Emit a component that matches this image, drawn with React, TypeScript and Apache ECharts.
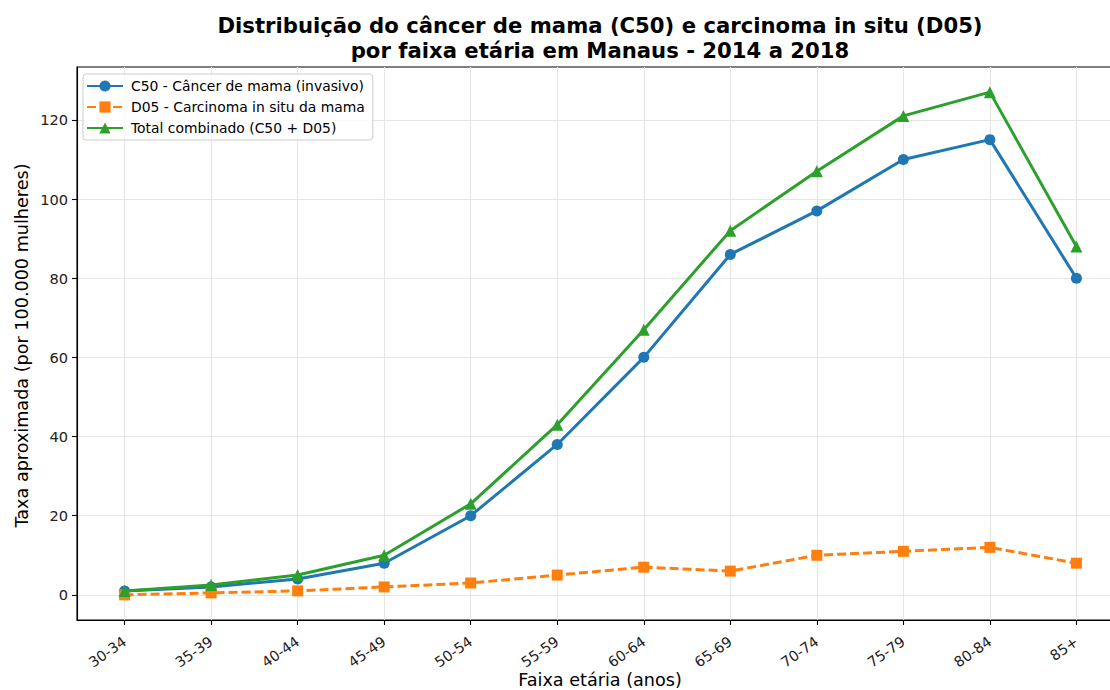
import React, { useEffect, useRef } from "react";
import * as echarts from "echarts";

const categories = ["30-34", "35-39", "40-44", "45-49", "50-54", "55-59", "60-64", "65-69", "70-74", "75-79", "80-84", "85+"];
const c50Values = [1, 2, 4, 8, 20, 38, 60, 86, 97, 110, 115, 80];
const d05Values = [0, 0.5, 1, 2, 3, 5, 7, 6, 10, 11, 12, 8];
const totalValues = [1, 2.5, 5, 10, 23, 43, 67, 92, 107, 121, 127, 88];
const yTicks = [0, 20, 40, 60, 80, 100, 120];

const seriesNames = [
  "C50 - Câncer de mama (invasivo)",
  "D05 - Carcinoma in situ da mama",
  "Total combinado (C50 + D05)",
];
const titleText = "Distribuição do câncer de mama (C50) e carcinoma in situ (D05)\npor faixa etária em Manaus - 2014 a 2018";
const xName = "Faixa etária (anos)";
const yName = "Taxa aproximada (por 100.000 mulheres)";

const FONT = "DejaVu Sans";

export default function App() {
  const ref = useRef<HTMLDivElement>(null);
  useEffect(() => {
    if (!ref.current) return;
    const chart = echarts.init(ref.current, null, { renderer: "svg" });
    const xIdx = categories.map((_, i) => i);
    const toPairs = (arr: number[]) => arr.map((v, i) => [i, v]);
    const gridLine = { show: true, lineStyle: { color: "#e6e6e6", width: 1.1 } };
    chart.setOption({
      animation: false,
      backgroundColor: "#ffffff",
      textStyle: { fontFamily: FONT },
      grid: {
        left: 77,
        top: 67,
        width: 1047,
        height: 553,
        outerBoundsMode: "none",
        containLabel: false,
        show: true,
        borderColor: "#000",
        borderWidth: 1.1,
        backgroundColor: "transparent",
      },
      legend: {
        orient: "vertical",
        left: 83,
        top: 74,
        padding: [5, 8, 5, 3],
        itemGap: 7,
        itemWidth: 36,
        itemHeight: 14,
        backgroundColor: "rgba(255,255,255,0.8)",
        borderColor: "#cccccc",
        borderWidth: 1,
        borderRadius: 3,
        textStyle: { fontFamily: FONT, fontSize: 13.9, color: "#000", padding: [0, 0, 0, 3] },
        data: seriesNames,
      },
      xAxis: {
        type: "value",
        min: -0.55,
        max: 11.55,
        axisLine: { show: true, onZero: false, lineStyle: { color: "#000", width: 1.1 } },
        axisTick: { show: true, customValues: xIdx, length: 5, lineStyle: { color: "#000", width: 1.1 } },
        axisLabel: {
          customValues: xIdx,
          formatter: (v: number) => categories[Math.round(v)] ?? "",
          rotate: 35,
          margin: 20,
          fontFamily: FONT,
          fontSize: 14.4,
          color: "#222",
        },
        splitLine: gridLine,
      },
      yAxis: {
        type: "value",
        min: -6.35,
        max: 133.35,
        axisLine: { show: true, onZero: false, lineStyle: { color: "#000", width: 1.1 } },
        axisTick: { show: true, customValues: yTicks, length: 5, lineStyle: { color: "#000", width: 1.1 } },
        axisLabel: {
          customValues: yTicks,
          margin: 9,
          fontFamily: FONT,
          fontSize: 14.6,
          color: "#222",
        },
        splitLine: gridLine,
      },
      graphic: [
        {
          type: "text",
          x: 600,
          y: 37.5,
          style: {
            text: titleText,
            font: `bold 21.2px '${FONT}'`,
            fill: "#000",
            textAlign: "center",
            textVerticalAlign: "middle",
            lineHeight: 25,
          },
        },
        {
          type: "text",
          x: 600,
          y: 680,
          style: {
            text: xName,
            font: `17.6px '${FONT}'`,
            fill: "#000",
            textAlign: "center",
            textVerticalAlign: "middle",
          },
        },
        {
          type: "text",
          x: 22,
          y: 345.5,
          rotation: Math.PI / 2,
          style: {
            text: yName,
            font: `17.6px '${FONT}'`,
            fill: "#000",
            textAlign: "center",
            textVerticalAlign: "middle",
          },
        },
      ],
      series: [
        {
          name: seriesNames[0],
          type: "line",
          data: toPairs(c50Values),
          symbol: "circle",
          symbolSize: 11,
          lineStyle: { color: "#1f77b4", width: 3 },
          itemStyle: { color: "#1f77b4" },
          z: 2,
        },
        {
          name: seriesNames[1],
          type: "line",
          data: toPairs(d05Values),
          symbol: "rect",
          symbolSize: 11,
          lineStyle: { color: "#ff7f0e", width: 3, type: [9, 4] },
          itemStyle: { color: "#ff7f0e" },
          z: 3,
        },
        {
          name: seriesNames[2],
          type: "line",
          data: toPairs(totalValues),
          symbol: "triangle",
          symbolSize: 12,
          lineStyle: { color: "#2ca02c", width: 3 },
          itemStyle: { color: "#2ca02c" },
          z: 4,
        },
      ],
    });
    return () => chart.dispose();
  }, []);
  return (
    <div
      ref={ref}
      style={{ position: "fixed", left: 0, top: 0, width: 1110, height: 690, background: "#fff" }}
    />
  );
}
